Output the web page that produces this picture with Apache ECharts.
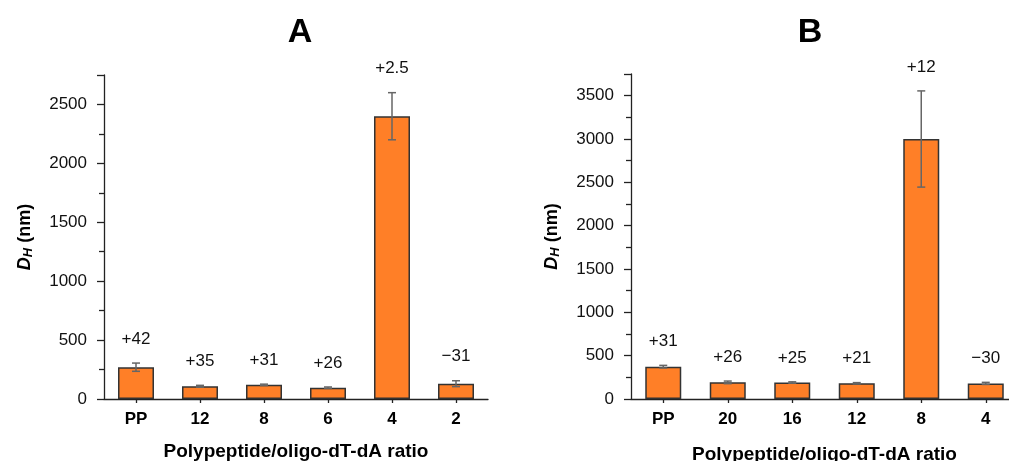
<!DOCTYPE html>
<html><head><meta charset="utf-8">
<script src="https://cdn.jsdelivr.net/npm/echarts@6/dist/echarts.min.js"></script>
<style>html,body{margin:0;padding:0;background:#fff}#c{width:1009px;height:461px}</style>
</head><body><div id="c"></div>
<script>
var catsA = ['PP','12','8','6','4','2'];
var valsA = [270,108,120,96,2400,130];
var errA  = [35,8,6,6,200,25];
var zetaA = ['+42','+35','+31','+26','+2.5','\u221231'];
var catsB = ['PP','20','16','12','8','4'];
var valsB = [373,192,190,181,3000,180];
var errB  = [15,15,8,8,555,12];
var zetaB = ['+31','+26','+25','+21','+12','\u221230'];
var yTicksA = {min:0, max:2750, interval:500};
var yTicksB = {min:0, max:3750, interval:500};

var FONT = 'Liberation Sans';
var chart = echarts.init(document.getElementById('c'));

function yAxis(gi, t){
  return {
    type:'value', gridIndex:gi, min:t.min, max:t.max, interval:t.interval,
    name:'{i|D}{s|H}{b| (nm)}', nameLocation:'middle', nameRotate:90, nameGap:69,
    nameTextStyle:{rich:{
      i:{fontFamily:FONT,fontSize:18,fontWeight:'bold',fontStyle:'italic',color:'#000'},
      s:{fontFamily:FONT,fontSize:13,fontWeight:'bold',fontStyle:'italic',color:'#000',padding:[7,0,0,0]},
      b:{fontFamily:FONT,fontSize:18,fontWeight:'bold',color:'#000'}
    }},
    axisLine:{show:true,lineStyle:{color:'#222',width:1.3}},
    axisTick:{show:true,length:7,lineStyle:{color:'#222',width:1.3}},
    minorTick:{show:true,splitNumber:2,length:5,lineStyle:{color:'#222',width:1.3}},
    splitLine:{show:false},
    axisLabel:{fontFamily:FONT,fontSize:17,color:'#111',margin:17,
      formatter:function(v){return v%500===0?String(v):'';}}
  };
}
function xAxis(gi, cats, gap){
  return {
    type:'category', gridIndex:gi, data:cats,
    name:'Polypeptide/oligo-dT-dA ratio', nameLocation:'middle', nameGap:gap,
    nameTextStyle:{fontFamily:FONT,fontSize:19,fontWeight:'bold',color:'#000'},
    axisLine:{lineStyle:{color:'#222',width:1.3}},
    axisTick:{show:true,alignWithLabel:true,length:4,lineStyle:{color:'#222',width:1.3}},
    axisLabel:{fontFamily:FONT,fontSize:17,fontWeight:'bold',color:'#000',margin:12}
  };
}
function barSeries(i, vals){
  return {type:'bar', xAxisIndex:i, yAxisIndex:i, data:vals, barWidth:36,
    itemStyle:{color:'#FF7F27', borderColor:'#333', borderWidth:1.5}, silent:true};
}
function errSeries(i, vals, errs, labels){
  var d = vals.map(function(v,k){return [k, v, errs[k]];});
  return {type:'custom', xAxisIndex:i, yAxisIndex:i, data:d, z:5, silent:true,
    renderItem:function(params, api){
      var x = api.value(0), v = api.value(1), e = api.value(2);
      var hi = api.coord([x, v+e]), lo = api.coord([x, v-e]);
      var cap = 4;
      var st = {stroke:'#666', lineWidth:1.5};
      return {type:'group', children:[
        {type:'line', shape:{x1:hi[0],y1:hi[1],x2:lo[0],y2:lo[1]}, style:st},
        {type:'line', shape:{x1:hi[0]-cap,y1:hi[1],x2:hi[0]+cap,y2:hi[1]}, style:st},
        {type:'line', shape:{x1:lo[0]-cap,y1:lo[1],x2:lo[0]+cap,y2:lo[1]}, style:st},
        {type:'text', x:hi[0], y:hi[1]-24, style:{text:labels[params.dataIndex], fontFamily:FONT, fontSize:17,
          fill:'#111', align:'center', verticalAlign:'middle'}}
      ]};
    }};
}
chart.setOption({
  animation:false,
  title:[
    {text:'A', left:295, top:11, textAlign:'center', textStyle:{fontFamily:FONT,fontSize:34,fontWeight:'bold',color:'#000'}},
    {text:'B', left:805, top:11, textAlign:'center', textStyle:{fontFamily:FONT,fontSize:34,fontWeight:'bold',color:'#000'}}
  ],
  grid:[
    {left:104, top:75, width:384, height:324, outerBoundsMode:'none', containLabel:false},
    {left:631, top:74, width:387, height:325, outerBoundsMode:'none', containLabel:false}
  ],
  xAxis:[xAxis(0,catsA,43), xAxis(1,catsB,46)],
  yAxis:[yAxis(0,yTicksA), yAxis(1,yTicksB)],
  series:[barSeries(0,valsA), errSeries(0,valsA,errA,zetaA), barSeries(1,valsB), errSeries(1,valsB,errB,zetaB)]
});
</script></body></html>
